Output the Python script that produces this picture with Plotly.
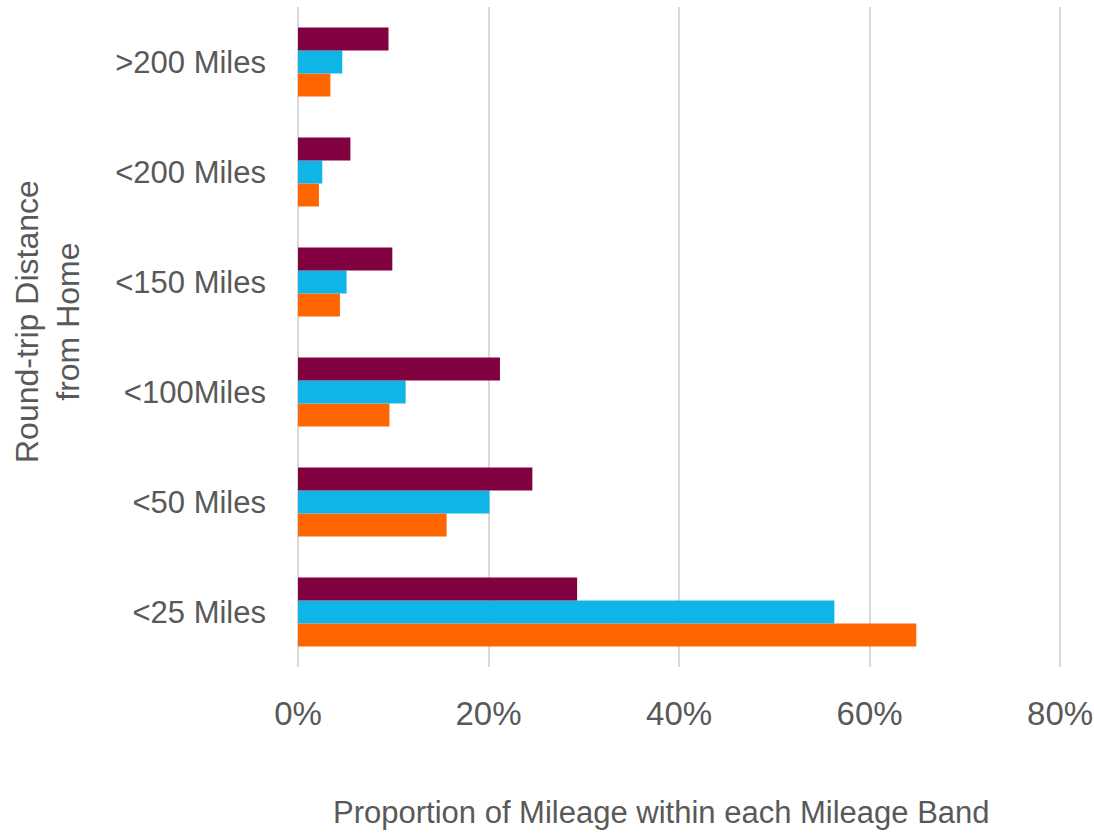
import plotly.graph_objects as go

# Mileage bands, bottom to top
bands = ["<25 Miles", "<50 Miles", "<100Miles", "<150 Miles", "<200 Miles", ">200 Miles"]

# Share of mileage (%) in each band for the three groups
orange_share = [64.9, 15.6, 9.6, 4.4, 2.2, 3.4]
blue_share = [56.3, 20.1, 11.3, 5.1, 2.55, 4.65]
maroon_share = [29.3, 24.6, 21.2, 9.9, 5.5, 9.5]

x_ticks = [0, 20, 40, 60, 80]
x_tick_text = ["0%", "20%", "40%", "60%", "80%"]

FONT = "Liberation Sans Narrow, Arial Narrow, Liberation Sans, Arial, sans-serif"
GREY = "#595959"

fig = go.Figure()
for name, vals, col in [
    ("Group C", orange_share, "#FF6600"),
    ("Group B", blue_share, "#10B5E8"),
    ("Group A", maroon_share, "#800040"),
]:
    fig.add_trace(go.Bar(
        y=bands, x=vals, name=name, orientation="h",
        marker=dict(color=col, line=dict(width=0)),
    ))

fig.update_layout(
    width=1094, height=833,
    barmode="group", bargap=0.373, bargroupgap=0,
    showlegend=False,
    plot_bgcolor="white", paper_bgcolor="white",
    margin=dict(l=298, r=31, t=7, b=166),
    font=dict(family=FONT, color=GREY),
    xaxis=dict(
        range=[0, 80.3], tickvals=x_ticks, ticktext=x_tick_text,
        showgrid=True, gridcolor="#D9D9D9", gridwidth=2,
        zeroline=True, zerolinecolor="#D9D9D9", zerolinewidth=2,
        showline=False, tickfont=dict(size=33, color=GREY),
        ticklabelstandoff=24, automargin=False,
    ),
    yaxis=dict(
        categoryorder="array", categoryarray=bands,
        showgrid=False, showline=False, zeroline=False,
        tickfont=dict(size=31, color=GREY),
        ticklabelstandoff=31, automargin=False,
    ),
    annotations=[
        dict(text="Proportion of Mileage within each Mileage Band",
             xref="paper", yref="paper", x=0.475, y=-0.22,
             xanchor="center", yanchor="middle", showarrow=False,
             font=dict(size=31, color=GREY)),
        dict(text="Round-trip Distance<br>from Home",
             xref="paper", yref="paper", x=-0.327, y=0.524,
             xanchor="center", yanchor="middle", showarrow=False,
             textangle=-90, font=dict(size=32, color=GREY)),
    ],
)

fig.write_html("out.html")
